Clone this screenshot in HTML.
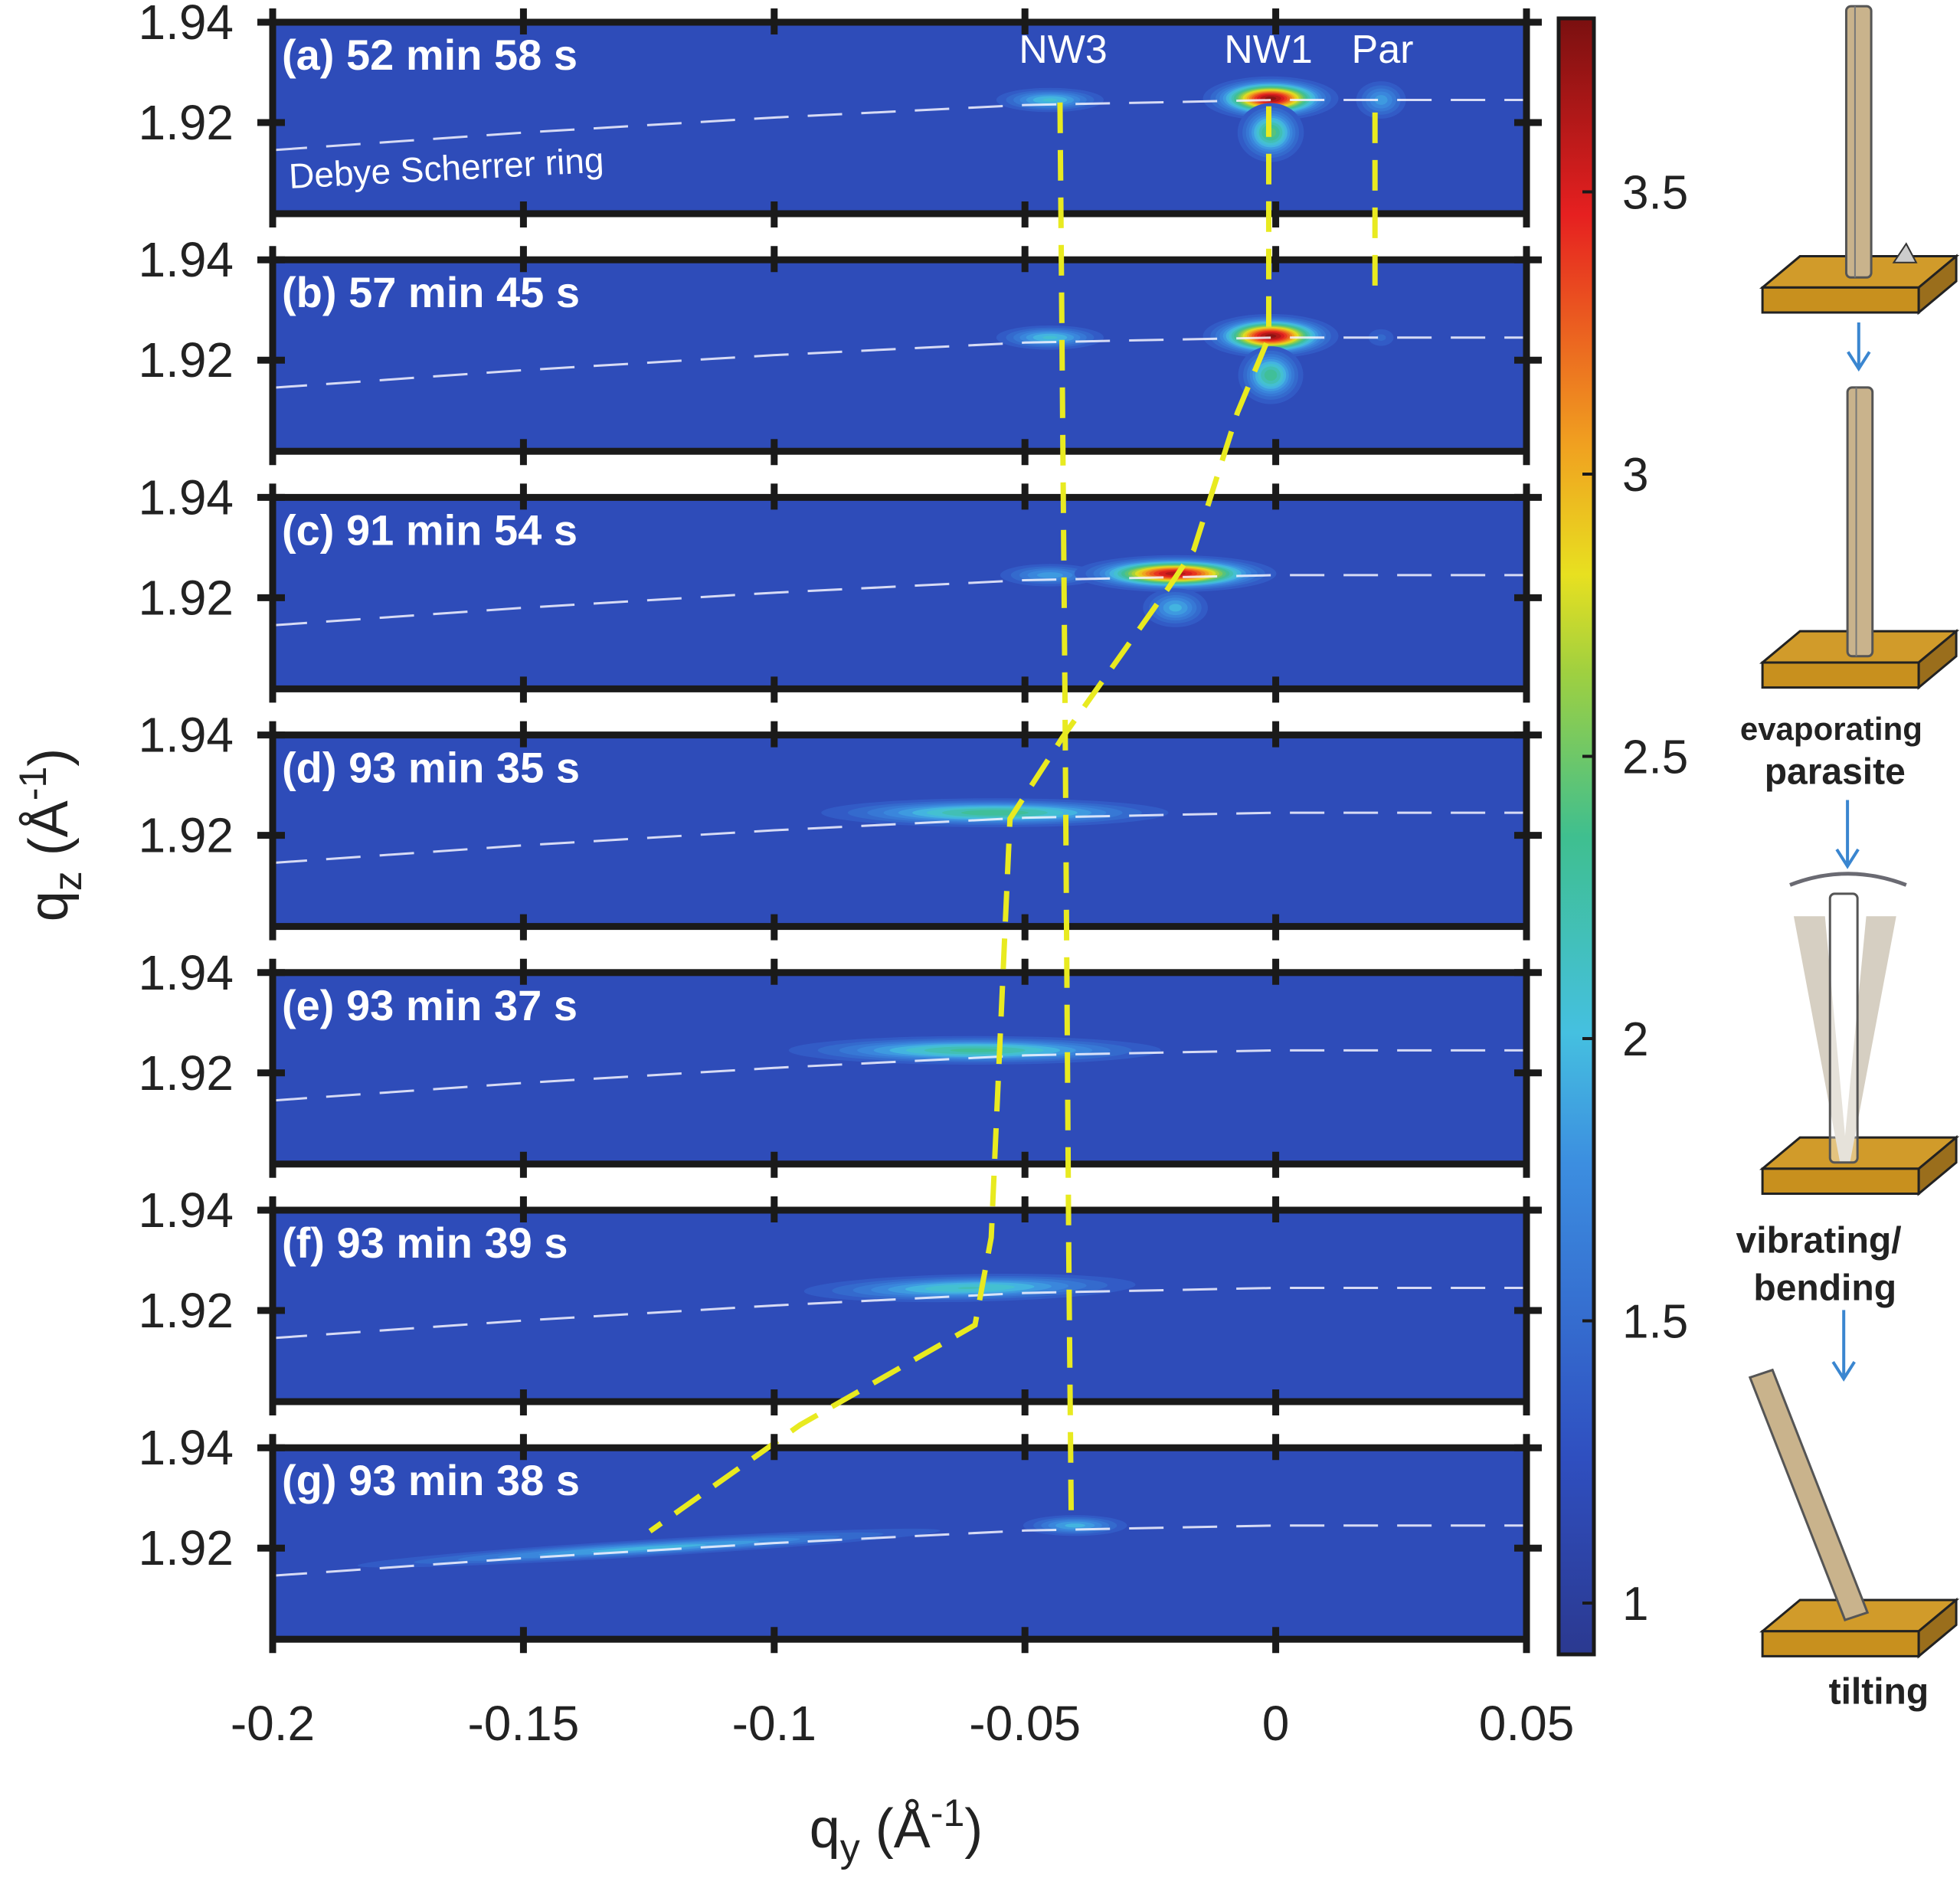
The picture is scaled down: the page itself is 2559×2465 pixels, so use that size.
<!DOCTYPE html>
<html><head><meta charset="utf-8">
<style>
html,body{margin:0;padding:0;background:#fff;}
svg{display:block;font-family:"Liberation Sans",Arial,sans-serif;}
</style></head>
<body>
<svg id="fig" width="2559" height="2465" viewBox="0 0 2559 2465" xmlns="http://www.w3.org/2000/svg">
<defs>
<linearGradient id="cbgrad" x1="0" y1="1" x2="0" y2="0">
<stop offset="0" stop-color="#2b3990"/><stop offset="0.12" stop-color="#2f4fc0"/><stop offset="0.3" stop-color="#3c8ee0"/>
<stop offset="0.38" stop-color="#45c0e0"/><stop offset="0.5" stop-color="#3fbf8f"/><stop offset="0.6" stop-color="#9fd040"/>
<stop offset="0.66" stop-color="#e8e020"/><stop offset="0.74" stop-color="#f0a020"/><stop offset="0.88" stop-color="#e62020"/>
<stop offset="1" stop-color="#7a1010"/></linearGradient>
<clipPath id="pclip"><rect x="0" y="0" width="1637" height="248"/></clipPath>
</defs>
<g id="panels"></g>
<g id="overlay"></g>
<g id="axes"></g>
<g id="cbar"></g>
<g id="diagram"></g>
</svg>
<script>
// ---- data ----
const panelLabels = ["(a) 52 min 58 s","(b) 57 min 45 s","(c) 91 min 54 s","(d) 93 min 35 s","(e) 93 min 37 s","(f) 93 min 39 s","(g) 93 min 38 s"];
const xTicks = [-0.2,-0.15,-0.1,-0.05,0,0.05];
const xTickLabels = ["-0.2","-0.15","-0.1","-0.05","0","0.05"];
const yTicks = [1.94,1.92];
const yTickLabels = ["1.94","1.92"];
const cbTicks = [1,1.5,2,2.5,3,3.5];
const cbTickLabels = ["1","1.5","2","2.5","3","3.5"];
const background = 1.2;
// peaks: panel, qy center, qz center, sigma qy, sigma qz, amplitude, tilt (dqz/dqy)
const peakPanel = [0,0,0,0, 1,1,1,1, 2,2,2, 3,4,5, 6,6];
const peakQy    = [-0.045,-0.001,-0.001,0.021, -0.045,-0.001,-0.001,0.021, -0.045,-0.02,-0.02, -0.056,-0.06,-0.061, -0.125,-0.04];
const peakQz    = [1.9245,1.9248,1.9180,1.9245, 1.9245,1.9248,1.9170,1.9245, 1.9245,1.9248,1.9180, 1.9245,1.9245,1.9245, 1.9200,1.9245];
const peakSy    = [0.008,0.008,0.0045,0.004, 0.008,0.008,0.0045,0.003, 0.008,0.012,0.005, 0.024,0.026,0.024, 0.045,0.008];
const peakSz    = [0.0018,0.0026,0.0040,0.0030, 0.0018,0.0026,0.0040,0.002, 0.0018,0.0022,0.0030, 0.0020,0.0020,0.0020, 0.0013,0.0016];
const peakAmp   = [2.1,3.8,2.5,1.9, 2.1,3.8,2.4,1.5, 1.9,3.7,2.0, 2.4,2.35,2.2, 2.0,2.0];
const peakTilt  = [0,0,0,0, 0,0,0,0, 0,0,0, 0,0,0.02, 0.06,0];
// Debye-Scherrer ring
const ringQy = [-0.2,-0.15,-0.1,-0.05,0,0.05];
const ringQz = [1.9145,1.918,1.921,1.9235,1.9245,1.9245];

// ---- layout ----
const X0=356, X1=1993, PT0=29, PSTEP=310.2, PH=250;
const sx = q => X0 + (q+0.2)/0.25*(X1-X0);
const sz = (q,i) => PT0 + i*PSTEP + (1.94-q)*6550;
const CBY0=24, CBY1=2160;
const cby = v => 2093 - (v-1)*737;
const NS="http://www.w3.org/2000/svg";
function el(tag,attrs,parent){const e=document.createElementNS(NS,tag);for(const k in attrs)e.setAttribute(k,attrs[k]);parent.appendChild(e);return e;}
const stops=[[0,[43,57,144]],[0.12,[47,79,192]],[0.3,[60,142,224]],[0.38,[69,192,224]],[0.5,[63,191,143]],[0.6,[159,208,64]],[0.66,[232,224,32]],[0.74,[240,160,32]],[0.88,[230,32,32]],[1,[122,16,16]]];
function cmap(v){let t=(v-0.9)/(3.81-0.9);t=Math.max(0,Math.min(1,t));
 for(let i=1;i<stops.length;i++){if(t<=stops[i][0]){const a=stops[i-1],b=stops[i];const f=(t-a[0])/(b[0]-a[0]);
 return "rgb("+a[1].map((c,j)=>Math.round(c+(b[1][j]-c)*f)).join(",")+")";}}return "rgb(122,16,16)";}

const panels=document.getElementById('panels');
for(let i=0;i<7;i++){
 const top=PT0+i*PSTEP;
 const g=el('g',{transform:`translate(${X0},${top})`},panels);
 
 
 const inner=el('g',{'clip-path':'url(#pclip)'},g);
 el('rect',{x:0,y:0,width:X1-X0,height:PH,fill:cmap(background)},inner);
 // peaks
 for(let p=0;p<peakPanel.length;p++){ if(peakPanel[p]!==i)continue;
  const cx=sx(peakQy[p])-X0, cy=sz(peakQz[p],i)-top;
  const rx=peakSy[p]*6548, ry=peakSz[p]*6550;
  const ang=-Math.atan(peakTilt[p])*180/Math.PI;
  const pg=el('g',{transform:`translate(${cx},${cy}) rotate(${ang})`},inner);
  
  
  for(let L=background+0.15;L<peakAmp[p];L+=0.12){
   const r=Math.sqrt(Math.log((peakAmp[p]-background)/(L-background)));
   el('ellipse',{cx:0,cy:0,rx:rx*r,ry:ry*r,fill:cmap(L)},pg);
  }
 }
 // ring
 let d="";ringQy.forEach((q,k)=>{d+=(k?"L":"M")+(sx(q)-X0)+","+(sz(ringQz[k],i)-top);});
 const ring=el('path',{d:d,fill:'none',stroke:'#f4f4ff','stroke-width':3,'stroke-dasharray':'45 25',opacity:0.85},inner);
 
 
 // border
 el('rect',{x:0,y:0,width:X1-X0,height:PH,fill:'none',stroke:'#1a1a1a','stroke-width':9},g);
 const lab=el('text',{x:12,y:62,fill:'#fff','font-size':56,'font-weight':'bold'},g);
 lab.textContent=panelLabels[i];
 
 
}
// top annotations
const ov=document.getElementById('overlay');
[["NW3",1388],["NW1",1656],["Par",1805]].forEach(([t,x])=>{const e=el('text',{x:x,y:82,fill:'#fff','font-size':52,'text-anchor':'middle'},ov);e.textContent=t;
 
 });
const deb=el('text',{x:378,y:246,fill:'#fff','font-size':46,transform:'rotate(-3 378 246)'},ov);deb.textContent="Debye Scherrer ring";


// yellow traces (display coords scaled)
const traces=[[[848,82],[852,560],[855,1000],[857,1215]],
 [[1015,85],[1015,270],[990,330],[955,440],[935,470],[850,590],[808,655],[797,900],[793,990],[780,1060],[640,1140],[520,1225]],
 [[1100,90],[1100,240]]];
traces.forEach((tr,k)=>{const d=tr.map((p,j)=>(j?"L":"M")+(p[0]*1.632)+","+(p[1]*1.632)).join("");
 const e=el('path',{d:d,fill:'none',stroke:'#e8ea20','stroke-width':7,'stroke-dasharray':'40 22'},ov);
 
 });

// axes
const ax=document.getElementById('axes');
xTicks.forEach((q,k)=>{const x=sx(q);
 for(let i=0;i<7;i++){const top=PT0+i*PSTEP;
  el('line',{x1:x,y1:top-18,x2:x,y2:top+16,stroke:'#1a1a1a','stroke-width':9},ax);
  el('line',{x1:x,y1:top+PH-16,x2:x,y2:top+PH+18,stroke:'#1a1a1a','stroke-width':9},ax);}
 const t=el('text',{x:x,y:2272,'font-size':64,'text-anchor':'middle',fill:'#222'},ax);t.textContent=xTickLabels[k];
 
 });
for(let i=0;i<7;i++){yTicks.forEach((q,k)=>{const y=sz(q,i);
 el('line',{x1:X0-20,y1:y,x2:X0+16,y2:y,stroke:'#1a1a1a','stroke-width':9},ax);
 el('line',{x1:X1-16,y1:y,x2:X1+20,y2:y,stroke:'#1a1a1a','stroke-width':9},ax);
 const t=el('text',{x:305,y:y+22,'font-size':64,'text-anchor':'end',fill:'#222'},ax);t.textContent=yTickLabels[k];
 
 });}
const xt=el('text',{x:1170,y:2412,'font-size':72,'text-anchor':'middle',fill:'#222'},ax);
xt.innerHTML='q<tspan dy="18" font-size="52">y</tspan><tspan dy="-18"> (Å</tspan><tspan dy="-28" font-size="50">-1</tspan><tspan dy="28">)</tspan>';


const yt=el('text',{x:0,y:0,'font-size':72,'text-anchor':'middle',fill:'#222',transform:'translate(88,1090) rotate(-90)'},ax);
yt.innerHTML='q<tspan dy="18" font-size="52">z</tspan><tspan dy="-18"> (Å</tspan><tspan dy="-28" font-size="50">-1</tspan><tspan dy="28">)</tspan>';



// colorbar
const cb=document.getElementById('cbar');
el('rect',{x:2035,y:CBY0,width:46,height:CBY1-CBY0,fill:'url(#cbgrad)',stroke:'#1a1a1a','stroke-width':5},cb);
cbTicks.forEach((v,k)=>{const y=cby(v);
 el('line',{x1:2066,y1:y,x2:2081,y2:y,stroke:'#1a1a1a','stroke-width':4},cb);
 const t=el('text',{x:2118,y:y+22,'font-size':62,fill:'#222'},cb);t.textContent=cbTickLabels[k];
 
 });

// diagram
const dg=document.getElementById('diagram');
const S=1.632;
function base(y){const g=el('g',{},dg);
 el('polygon',{points:[[1410,y],[1440,y-25],[1565,y-25],[1535,y]].map(p=>p[0]*S+","+p[1]*S).join(" "),fill:'#d19b2a',stroke:'#222','stroke-width':3},g);
 el('polygon',{points:[[1410,y],[1535,y],[1535,y+20],[1410,y+20]].map(p=>p[0]*S+","+p[1]*S).join(" "),fill:'#c8901e',stroke:'#222','stroke-width':3},g);
 el('polygon',{points:[[1535,y],[1565,y-25],[1565,y-5],[1535,y+20]].map(p=>p[0]*S+","+p[1]*S).join(" "),fill:'#9a6e1c',stroke:'#222','stroke-width':3},g);}
function pillar(x,y0,y1,w){el('rect',{x:x*S,y:y0*S,width:w*S,height:(y1-y0)*S,fill:'#c9b38c',stroke:'#555','stroke-width':3,rx:6},dg);
 el('line',{x1:(x+w*0.35)*S,y1:y0*S,x2:(x+w*0.35)*S,y2:y1*S,stroke:'#777','stroke-width':2},dg);}
base(230);pillar(1477,5,222,20);
el('path',{d:`M${1515*S},${210*S} l${10*S},${-15*S} l${8*S},${15*S} z`,fill:'#ccc',stroke:'#333','stroke-width':2},dg);
base(530);pillar(1478,310,525,20);
base(935);
el('polygon',{points:[[1435,733],[1460,733],[1478,930],[1472,930]].map(p=>p[0]*S+","+p[1]*S).join(" "),fill:'#d6cfc2'},dg);
el('polygon',{points:[[1493,733],[1517,733],[1480,930],[1474,930]].map(p=>p[0]*S+","+p[1]*S).join(" "),fill:'#d6cfc2'},dg);
el('rect',{x:1464*S,y:715*S,width:22*S,height:215*S,fill:'rgba(255,255,255,0.4)',stroke:'#555','stroke-width':3,rx:6},dg);
el('path',{d:`M${1432*S},${708*S} Q${1478*S},${690*S} ${1525*S},${708*S}`,fill:'none',stroke:'#6a6a72','stroke-width':5},dg);
base(1305);
el('polygon',{points:[[1400,1102],[1418,1096],[1494,1290],[1476,1296]].map(p=>p[0]*S+","+p[1]*S).join(" "),fill:'#c9b38c',stroke:'#555','stroke-width':3},dg);
[[1487,258,295],[1478,640,693],[1475,1048,1103]].forEach(a=>{const x=a[0]*S;
 el('path',{d:`M${x},${a[1]*S} V${a[2]*S} M${x-14},${a[2]*S-22} L${x},${a[2]*S} L${x+14},${a[2]*S-22}`,fill:'none',stroke:'#3a86d0','stroke-width':4},dg);});
[["evaporating",1465,592],["parasite",1468,627],["vibrating/",1455,1002],["bending",1460,1040],["tilting",1503,1363]].forEach(([t,x,y])=>{
 const e=el('text',{x:x*S,y:y*S,'font-size':(t.length>9&&t!=="vibrating/"?42:48),'font-weight':'bold','text-anchor':'middle',fill:'#222'},dg);e.textContent=t;
 
 });
</script>
</body></html>
